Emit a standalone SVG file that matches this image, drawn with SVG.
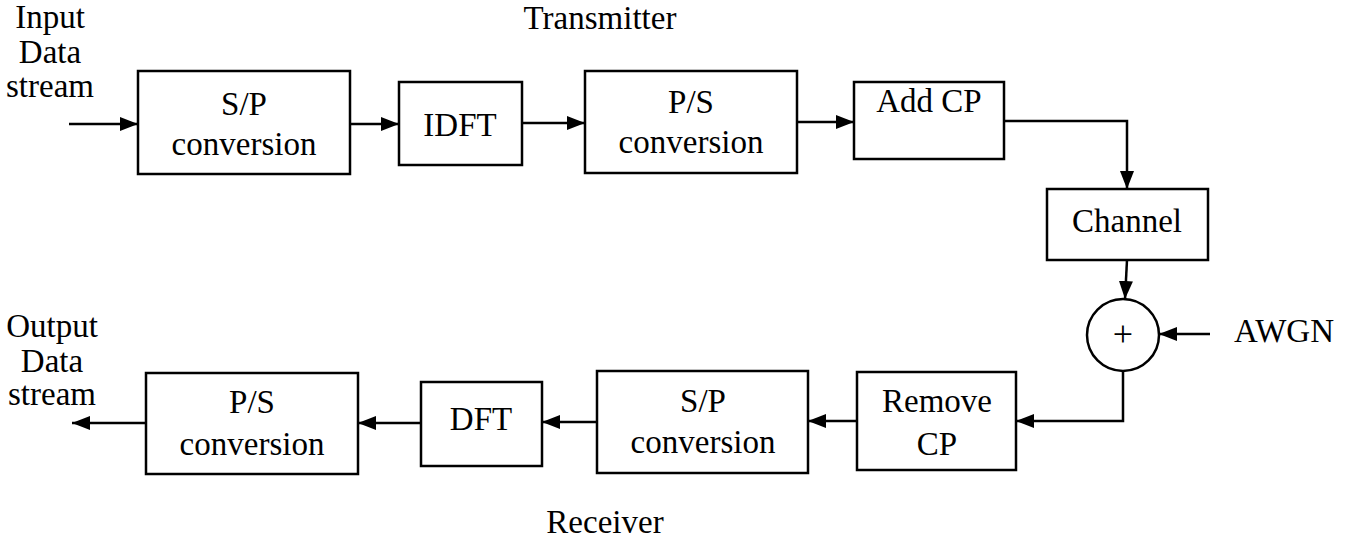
<svg xmlns="http://www.w3.org/2000/svg" width="1352" height="542" viewBox="0 0 1352 542">
<style>
  .box { fill: #fff; stroke: #000; stroke-width: 2.5; }
  .t { font-family: "Liberation Serif", "Times New Roman", serif; font-size: 33px; fill: #000; text-anchor: middle; }
  .c { fill: none; stroke: #000; stroke-width: 2.5; }
</style>
<defs>
  <marker id="ah" markerUnits="userSpaceOnUse" markerWidth="19" markerHeight="15" refX="18" refY="7" orient="auto">
    <path d="M0,0 L18,7 L0,14 z" fill="#000"/>
  </marker>
</defs>
<rect width="1352" height="542" fill="#fff"/>

<text class="t" x="600" y="29">Transmitter</text>
<text class="t" x="605" y="533">Receiver</text>

<g id="input-label">
  <text class="t" x="50" y="28">Input</text>
  <text class="t" x="50" y="63">Data</text>
  <text class="t" x="50" y="97">stream</text>
</g>
<g id="output-label">
  <text class="t" x="52" y="337">Output</text>
  <text class="t" x="52" y="372">Data</text>
  <text class="t" x="52" y="405">stream</text>
</g>

<g id="sp-tx">
  <rect class="box" x="138" y="71" width="212" height="103"/>
  <text class="t" x="244" y="115">S/P</text>
  <text class="t" x="244" y="155">conversion</text>
</g>
<g id="idft">
  <rect class="box" x="399" y="82" width="123" height="83"/>
  <text class="t" x="460" y="136">IDFT</text>
</g>
<g id="ps-tx">
  <rect class="box" x="585" y="71" width="212" height="102"/>
  <text class="t" x="691" y="113">P/S</text>
  <text class="t" x="691" y="153">conversion</text>
</g>
<g id="addcp">
  <rect class="box" x="854" y="82" width="150" height="77"/>
  <text class="t" x="929" y="112">Add CP</text>
</g>
<g id="channel">
  <rect class="box" x="1047" y="189" width="161" height="71"/>
  <text class="t" x="1127" y="232">Channel</text>
</g>
<g id="adder">
  <circle class="box" cx="1123" cy="335" r="36"/>
  <text class="t" x="1123" y="346" style="font-size:36px">+</text>
</g>
<g id="awgn">
  <text class="t" x="1284" y="342">AWGN</text>
</g>
<g id="removecp">
  <rect class="box" x="857" y="372" width="159" height="98"/>
  <text class="t" x="937" y="412">Remove</text>
  <text class="t" x="937" y="455">CP</text>
</g>
<g id="sp-rx">
  <rect class="box" x="597" y="371" width="211" height="102"/>
  <text class="t" x="703" y="412">S/P</text>
  <text class="t" x="703" y="453">conversion</text>
</g>
<g id="dft">
  <rect class="box" x="421" y="382" width="121" height="84"/>
  <text class="t" x="481" y="430">DFT</text>
</g>
<g id="ps-rx">
  <rect class="box" x="146" y="373" width="212" height="101"/>
  <text class="t" x="252" y="413">P/S</text>
  <text class="t" x="252" y="455">conversion</text>
</g>

<g id="connectors">
  <path class="c" d="M69,124 H138" marker-end="url(#ah)"/>
  <path class="c" d="M350,124 H399" marker-end="url(#ah)"/>
  <path class="c" d="M522,123 H585" marker-end="url(#ah)"/>
  <path class="c" d="M797,122 H854" marker-end="url(#ah)"/>
  <path class="c" d="M1004,121 H1127 V189" marker-end="url(#ah)"/>
  <path class="c" d="M1127,260 L1125,299" marker-end="url(#ah)"/>
  <path class="c" d="M1210,334 H1159" marker-end="url(#ah)"/>
  <path class="c" d="M1123,371 V421 H1016" marker-end="url(#ah)"/>
  <path class="c" d="M857,421 H808" marker-end="url(#ah)"/>
  <path class="c" d="M597,422 H542" marker-end="url(#ah)"/>
  <path class="c" d="M421,423 H358" marker-end="url(#ah)"/>
  <path class="c" d="M146,423 H72" marker-end="url(#ah)"/>
</g>
</svg>
